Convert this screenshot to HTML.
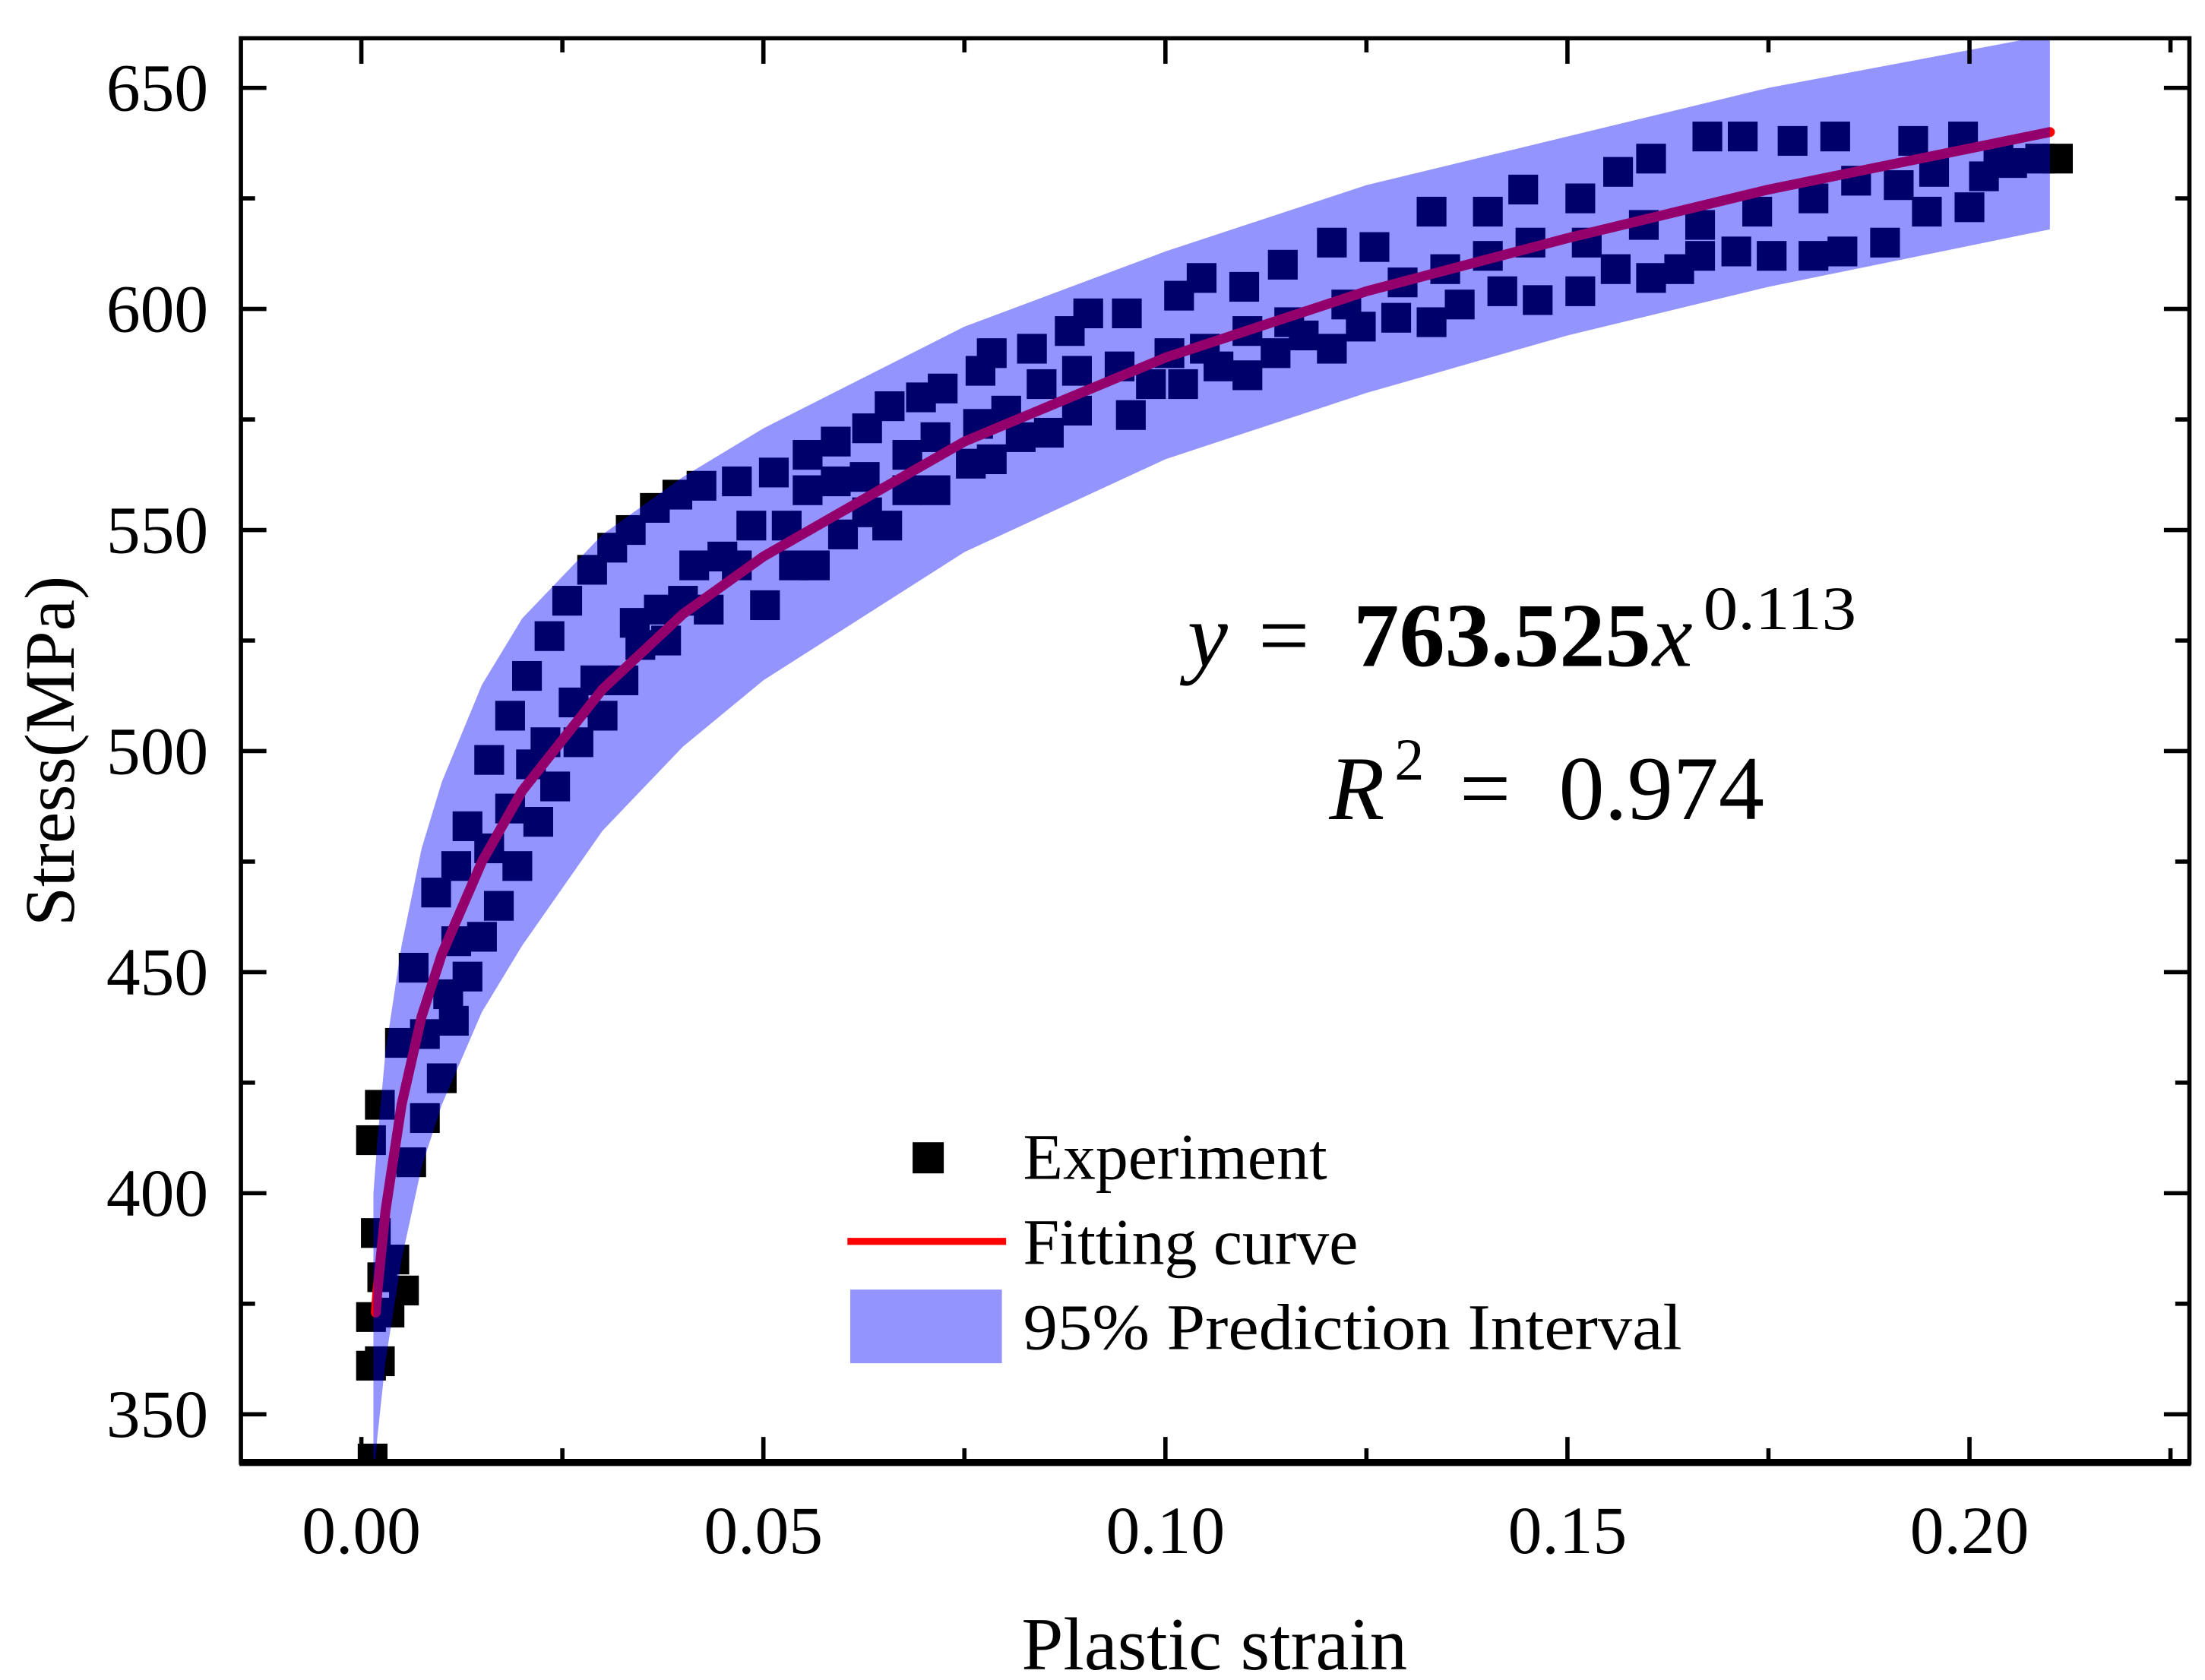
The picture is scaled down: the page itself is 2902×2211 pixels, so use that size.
<!DOCTYPE html>
<html><head><meta charset="utf-8"><style>
html,body{margin:0;padding:0;background:#fff;}
svg{display:block;}
text{font-family:"Liberation Serif",serif;fill:#000;}
</style></head><body>
<svg id="chart" width="2902" height="2211" viewBox="0 0 1556 1185.5" preserveAspectRatio="none" xmlns="http://www.w3.org/2000/svg">
<defs><clipPath id="plotclip"><rect x="171" y="28" width="1373" height="1003"/></clipPath></defs>
<g id="marks" clip-path="url(#plotclip)"></g>
<g id="axes"></g>
<g>
<text x="838" y="470" font-size="64" font-style="italic">y</text>
<text x="888" y="470" font-size="64">=</text>
<text x="955" y="470" font-size="64" font-weight="bold" textLength="210" lengthAdjust="spacingAndGlyphs">763.525</text>
<text x="1166" y="470" font-size="64" font-style="italic">x</text>
<text x="1202" y="444" font-size="44" textLength="108" lengthAdjust="spacingAndGlyphs">0.113</text>
<text x="938" y="578" font-size="64" font-style="italic">R</text>
<text x="984" y="550" font-size="42">2</text>
<text x="1030" y="578" font-size="64">=</text>
<text x="1100" y="578" font-size="64" textLength="145" lengthAdjust="spacingAndGlyphs">0.974</text>
</g>
<g>
<rect x="644" y="806" width="22" height="22" fill="#000"/>
<text x="722" y="832" font-size="46">Experiment</text>
<line x1="598" y1="876" x2="710" y2="876" stroke="#ff0000" stroke-width="5"/>
<text x="722" y="892" font-size="46">Fitting curve</text>
<rect x="600" y="910" width="107" height="52" fill="#9494ff"/>
<text x="722" y="952" font-size="46" textLength="465" lengthAdjust="spacingAndGlyphs">95% Prediction Interval</text>
</g>
<text x="857" y="1178" font-size="53" text-anchor="middle">Plastic strain</text>
<text transform="translate(52,530) rotate(-90)" font-size="50" text-anchor="middle">Stress(MPa)</text>
</svg>
<script>
const xTicks=[0,0.05,0.10,0.15,0.20];
const xTickLabels=["0.00","0.05","0.10","0.15","0.20"];
const yTicks=[350,400,450,500,550,600,650];
const yTickLabels=["350","400","450","500","550","600","650"];
const expX=[.0012,.0023,.0048,.0065,.0093,.0118,.0132,.0159,.0185,.0206,.0234,.0256,.0287,.0312,.0335,.0365,.0393,.0423,.0467,.0513,.0555,.059,.0629,.0657,.0696,.0723,.077,.0784,.0834,.0881,.0904,.0952,.1017,.1045,.1098,.1146,.1207,.126,.1331,.1401,.1445,.1516,.1563,.1604,.1674,.1718,.178,.1833,.193,.1992,.2036,.2088,
.0018,.0026,.0035,.0062,.0079,.01,.0115,.0132,.015,.0171,.0194,.022,.0241,.027,.03,.0326,.0347,.0379,.04,.0432,.0467,.0502,.0538,.0564,.0599,.0629,.0654,.0679,.0714,.0758,.0784,.082,.0855,.089,.0957,.0982,.1022,.1066,.1102,.1137,.1172,.1207,.1243,.1287,.1331,.1366,.1419,.1463,.1516,.156,.1604,.1639,.1665,.171,.1754,.1806,.1842,.1895,.1947,.2,.211,
.0079,.0108,.0118,.0159,.0185,.0211,.0229,.0264,.0291,.034,.037,.0414,.0449,.0485,.0529,.0555,.059,.0626,.0679,.0714,.0767,.0802,.0846,.089,.0943,.1005,.1049,.1102,.1154,.1225,.1295,.1348,.1401,.1454,.1524,.1595,.1665,.1736,.1806,.1859,.1912,.1956,.2018,.2053,
.0014,.0012,.0023,.0012,.0041,.0053];
const expY=[412,420,434,451,468,474,483,498,508,517,526,534,541,546,550,555,558,560,561,563,567,570,573,578,580,582,586,590,591,595,599,599,603,607,605,610,615,614,622,622,627,625,631,634,639,639,638,639,638,639,634,634,
391,381,373,407,417,426,439,449,458,465,474,484,492,502,508,516,524,525,534,532,542,533,542,542,549,554,551,559,559,565,566,571,572,577,576,583,583,587,585,590,594,591,596,598,597,601,604,602,604,609,607,609,612,613,612,612,613,615,622,623,634,
436,445,457,478,487,497,502,511,516,529,532,542,544,551,551,559,561,562,567,571,574,577,583,586,587,590,591,595,597,601,606,609,612,615,615,619,619,622,625,629,628,631,630,633,
340,361,362,372,385,378];
const fitX=[0.0018,0.002,0.003,0.005,0.0075,0.01,0.015,0.02,0.03,0.04,0.05,0.075,0.1,0.125,0.15,0.175,0.21];
const fitY=[373,378,396,420,440,454,475,491,514,531,544,570,589,604,616,627,640];
const bandX=[0.0015,0.002,0.003,0.005,0.0075,0.01,0.015,0.02,0.03,0.04,0.05,0.075,0.1,0.125,0.15,0.175,0.21];
const bandUpper=[400,412,432,456,478,493,515,530,549,562,573,596,613,628,639,650,662];
const bandLower=[335,345,362,385,406,420,441,456,482,501,516,545,566,581,594,605,618];

const NS="http://www.w3.org/2000/svg";
function sx(v){return 255+v*5674;}
function sy(v){return 62+(650-v)*3.12;}
function mk(tag,attrs,parent){const e=document.createElementNS(NS,tag);for(const k in attrs)e.setAttribute(k,attrs[k]);parent.appendChild(e);return e;}
const marks=document.getElementById('marks');
const axes=document.getElementById('axes');

const sq=21;
for(let i=0;i<expX.length;i++){
  const r=mk('rect',{x:sx(expX[i])-sq/2,y:sy(expY[i])-sq/2,width:sq,height:sq,fill:'#000'},marks);
  
  
}
let d='';
for(let i=0;i<fitX.length;i++){d+=(i?'L':'M')+sx(fitX[i])+','+sy(fitY[i]);}
const fit=mk('path',{d:d,fill:'none',stroke:'#ff0000','stroke-width':7,'stroke-linecap':'round','stroke-linejoin':'round'},marks);


let bd='';
for(let i=0;i<bandX.length;i++){bd+=(i?'L':'M')+sx(bandX[i])+','+sy(bandUpper[i]);}
for(let i=bandX.length-1;i>=0;i--){bd+='L'+sx(bandX[i])+','+sy(bandLower[i]);}
bd+='Z';
const band=mk('path',{d:bd,fill:'rgba(0,0,255,0.42)','stroke-linejoin':'round'},marks);



const L=170,R=1545,T=27,B=1032;
const fr=mk('rect',{x:L,y:T,width:R-L,height:B-T,fill:'none',stroke:'#000','stroke-width':3},axes);


const bx=mk('line',{x1:L-1,y1:B,x2:R+1,y2:B,stroke:'#000','stroke-width':5},axes);



for(let i=0;i<yTicks.length;i++){
  const y=sy(yTicks[i]);
  mk('line',{x1:L,y1:y,x2:L+18,y2:y,stroke:'#000','stroke-width':3},axes);
  mk('line',{x1:R,y1:y,x2:R-18,y2:y,stroke:'#000','stroke-width':3},axes);
  const t=mk('text',{x:147,y:y+16,'font-size':48,'text-anchor':'end'},axes);
  t.textContent=yTickLabels[i];
  
  
  if(i<yTicks.length-1){
    const ym=sy(yTicks[i]+25);
    mk('line',{x1:L,y1:ym,x2:L+10,y2:ym,stroke:'#000','stroke-width':3},axes);
    mk('line',{x1:R,y1:ym,x2:R-10,y2:ym,stroke:'#000','stroke-width':3},axes);
  }
}
for(let i=0;i<xTicks.length;i++){
  const x=sx(xTicks[i]);
  mk('line',{x1:x,y1:B,x2:x,y2:B-18,stroke:'#000','stroke-width':3},axes);
  mk('line',{x1:x,y1:T,x2:x,y2:T+18,stroke:'#000','stroke-width':3},axes);
  const t=mk('text',{x:x,y:1096,'font-size':48,'text-anchor':'middle'},axes);
  t.textContent=xTickLabels[i];
  
  
  const xm=sx(xTicks[i]+0.025);
  if(xm<R){
    mk('line',{x1:xm,y1:B,x2:xm,y2:B-10,stroke:'#000','stroke-width':3},axes);
    mk('line',{x1:xm,y1:T,x2:xm,y2:T+10,stroke:'#000','stroke-width':3},axes);
  }
}
</script>
</body></html>
